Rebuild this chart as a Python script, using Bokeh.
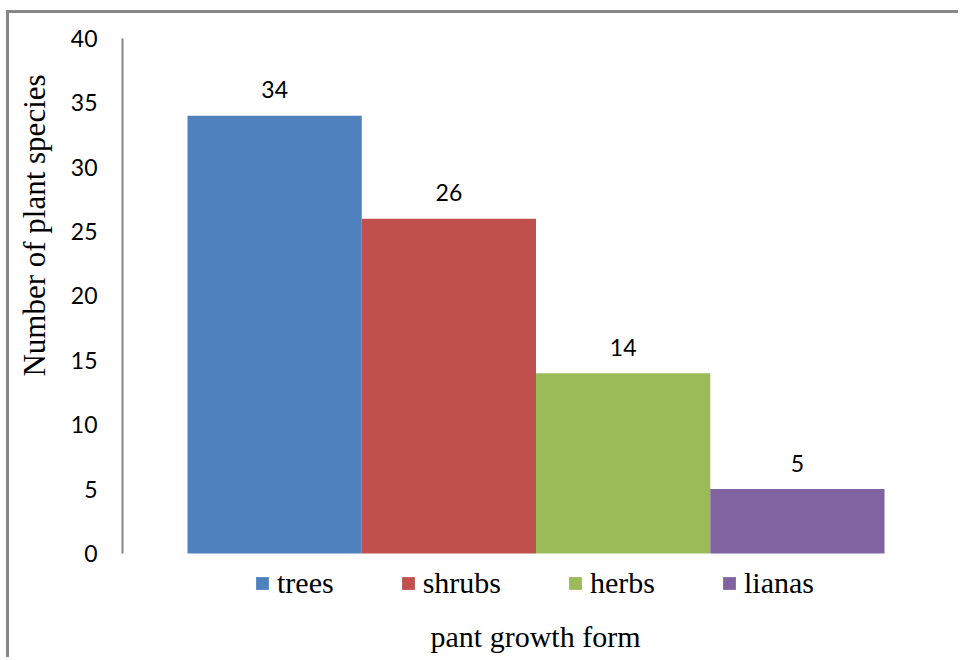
import math
from bokeh.plotting import figure
from bokeh.models import ColumnDataSource, Range1d, FixedTicker, Legend, LegendItem, Label
from bokeh.core.properties import value
from bokeh.embed import file_html
from bokeh.resources import INLINE

categories = ["trees", "shrubs", "herbs", "lianas"]
counts = [34, 26, 14, 5]
colors = ["#4F81BD", "#C0504D", "#9BBB59", "#8064A2"]
y_ticks = [0, 5, 10, 15, 20, 25, 30, 35, 40]
x_title = "pant growth form"
y_title = "Number of plant species"

positions = list(range(len(categories)))
source = ColumnDataSource(dict(x=positions, value=counts, cat=categories,
                               color=colors, label=[str(v) for v in counts]))

# the frame covers the whole canvas; the y axis sits at a fixed location inside it
p = figure(width=952, height=647, output_backend="svg", toolbar_location=None,
           x_range=Range1d(-1.52152, 3.94189), y_range=Range1d(-8.3107, 41.9417),
           x_axis_location=None, min_border=0,
           min_border_left=0, min_border_right=0, min_border_top=0, min_border_bottom=0)
p.styles = {"border-left": "3px solid #878787", "border-top": "3px solid #878787"}
p.margin = (10, 0, 0, 6)
p.outline_line_color = None
p.xgrid.visible = False
p.ygrid.visible = False
p.background_fill_color = "white"
p.border_fill_color = "white"

ya = p.yaxis[0]
ya.fixed_location = -0.87303
ya.ticker = FixedTicker(ticks=y_ticks)
ya.bounds = (0, 40)
ya.major_tick_line_color = None
ya.minor_tick_line_color = None
ya.axis_line_color = "#868686"
ya.axis_line_width = 2
ya.major_label_standoff = 19
ya.major_label_text_font = "Lato"
ya.major_label_text_font_size = "23px"
ya.major_label_text_color = "black"

items = []
for i, cat in enumerate(categories):
    view_src = ColumnDataSource(dict(x=[positions[i]], top=[counts[i]]))
    r = p.vbar(x="x", top="top", width=1.0, bottom=0, source=view_src,
               fill_color=colors[i], line_color=None)
    items.append(LegendItem(label=cat, renderers=[r]))

p.text(x="x", y="value", text="label", source=source,
       text_font=value("Lato"), text_font_size=value("23px"), text_color="black",
       text_align="center", text_baseline="alphabetic", y_offset=-26)

legend = Legend(items=items, orientation="horizontal", location=(245, 60),
                glyph_width=16, glyph_height=16, label_standoff=7, spacing=66,
                label_text_font="Liberation Serif", label_text_font_size="30px",
                label_text_color="black", padding=0, margin=0,
                border_line_color=None, background_fill_alpha=0)
p.add_layout(legend, "center")

p.add_layout(Label(x=526, y=24, x_units="screen", y_units="screen", text=x_title,
                   text_align="center", text_baseline="alphabetic",
                   text_font="Liberation Serif", text_font_size="30px",
                   text_color="black"))

p.add_layout(Label(x=25, y=435, x_units="screen", y_units="screen", text=y_title,
                   angle=math.pi / 2, text_align="center", text_baseline="alphabetic",
                   text_font="Liberation Serif", text_font_size="31px",
                   text_color="black"))

open("out.html", "w").write(file_html(p, INLINE))
